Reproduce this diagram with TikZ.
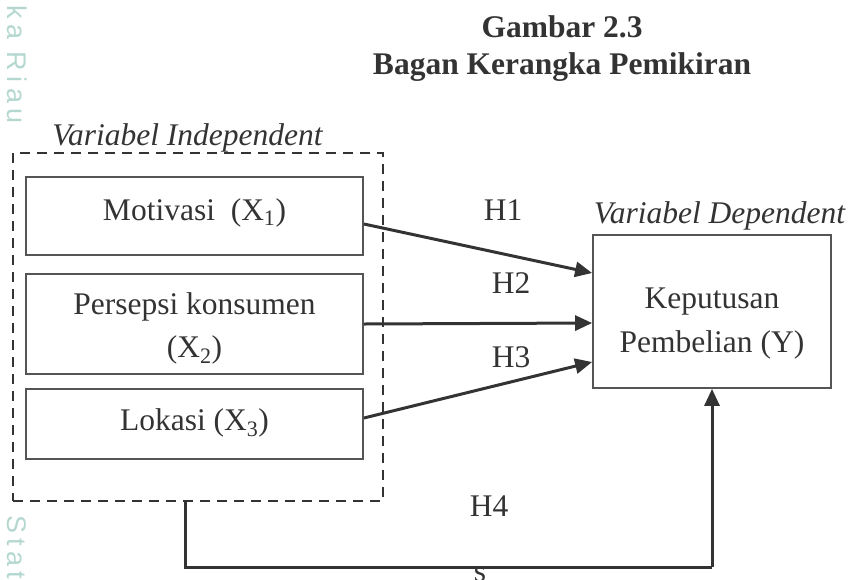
\documentclass[tikz,border=0pt]{standalone}
\usepackage{fontspec}
\setmainfont{Liberation Serif}
\newfontfamily\wmfont[LetterSpace=20]{Liberation Sans}
\usetikzlibrary{arrows.meta,calc}
\definecolor{ink}{RGB}{51,51,51}
\definecolor{boxline}{RGB}{85,85,85}
\definecolor{wm}{RGB}{180,215,207}
\begin{document}
\begin{tikzpicture}[x=1pt,y=-1pt,
  every node/.style={text=ink,font=\fontsize{31.5}{43}\selectfont},
  varbox/.style={draw=boxline,line width=1.8pt,minimum width=337pt,inner sep=0pt},
  groupbox/.style={draw=ink,line width=2.6pt,dash pattern=on 10pt off 7pt,inner sep=0pt,minimum width=370pt,minimum height=348pt},
  link/.style={draw=ink,line width=3pt,-{Triangle[length=17pt,width=15pt]}},
  txt/.style={anchor=base,inner sep=0pt},
  caption/.style={anchor=base,inner sep=0pt,font=\fontsize{31.5}{43}\selectfont\itshape},
  heading/.style={anchor=base,inner sep=0pt,font=\fontsize{31.5}{43}\selectfont\bfseries},
  wmark/.style={text=wm,font=\wmfont\fontsize{27}{27}\selectfont,rotate=-90,inner sep=0pt}]
\useasboundingbox (0,0) rectangle (851,579);
% faint watermark text on the left edge
\node[wmark,anchor=base west] (wm1) at (7,5) {ka Riau};
\node[wmark,anchor=base west] (wm2) at (7,515) {Stat};
% title
\node[heading] (t1) at (562,37) {Gambar 2.3};
\node[heading] (t2) at (562,74) {Bagan Kerangka Pemikiran};
% independent group
\node[caption] (indep) at (187.5,145) {Variabel Independent};
\node[groupbox] (grp) at (198,327) {};
\node[varbox,minimum height=78pt] (x1) at (194.5,216) {};
\node[varbox,minimum height=100pt] (x2) at (194.5,324) {};
\node[varbox,minimum height=70pt] (x3) at (194.5,424) {};
\node[txt] (x1t) at (194.5,220) {Motivasi\ \ (X\textsubscript{1})};
\node[txt] (x2t) at (194.5,314) {Persepsi konsumen};
\node[txt] (x2u) at (194.5,357) {(X\textsubscript{2})};
\node[txt] (x3t) at (194.5,430) {Lokasi (X\textsubscript{3})};
% dependent
\node[caption] (dep) at (719.5,223) {Variabel Dependent};
\node[varbox,minimum width=238pt,minimum height=153pt] (y) at (712,311.5) {};
\node[txt] (yt) at (712,308) {Keputusan};
\node[txt] (yu) at (712,352) {Pembelian (Y)};
% arrows
\draw[link] ($(x1.east)+(0,8)$) -- ($(y.west)+(0,-38.5)$);
\draw[link] (x2.east) -- ($(y.west)+(0,11.5)$);
\draw[link] ($(x3.east)+(0,-6)$) -- ($(y.west)+(0,50.5)$);
\coordinate (c1) at (185,567);
\coordinate (c2) at (712,567);
\draw[link,-] (grp.south -| c1) -- (c1) -- (c2);
\draw[link] (c2) -- (y.south);
% labels
\node[txt] (h1) at (503,220) {H1};
\node[txt] (h2) at (511,293) {H2};
\node[txt] (h3) at (511,367) {H3};
\node[txt] (h4) at (489,516) {H4};
\node[txt] (s) at (480,581) {s};
\end{tikzpicture}
\end{document}
